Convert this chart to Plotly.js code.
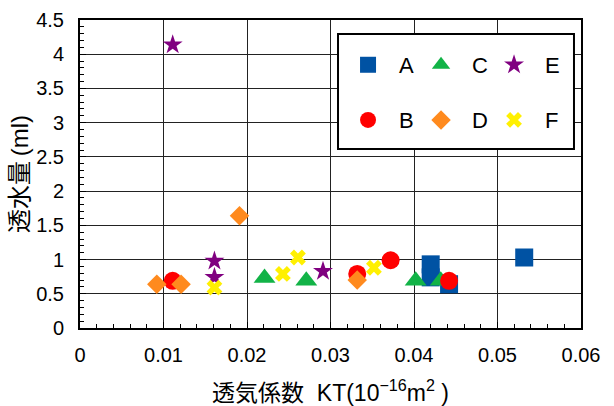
<!DOCTYPE html>
<html>
<head>
<meta charset="utf-8">
<script src="https://cdn.plot.ly/plotly-3.0.1.min.js"></script>
<style>html,body{margin:0;padding:0;background:#fff;}</style>
</head>
<body>
<div id="chart" style="width:614px;height:406px;"></div>
<script>
// Data
const seriesNames = ["A", "B", "C", "D", "E", "F"];
const A_x = [0.042, 0.042, 0.0442, 0.0532];
const A_y = [0.93, 0.74, 0.64, 1.03];
const B_x = [0.0111, 0.0332, 0.0372, 0.0442];
const B_y = [0.69, 0.79, 0.99, 0.69];
const C_x = [0.0221, 0.0271, 0.0402, 0.0432];
const C_y = [0.73, 0.69, 0.69, 0.69];
const D_x = [0.0092, 0.0121, 0.0191, 0.0332];
const D_y = [0.64, 0.64, 1.64, 0.70];
const E_x = [0.0111, 0.0161, 0.0161, 0.0291];
const E_y = [4.14, 0.98, 0.74, 0.83];
const F_x = [0.0161, 0.0243, 0.0261, 0.0352];
const F_y = [0.59, 0.79, 1.03, 0.88];
const xTickVals = [0, 0.01, 0.02, 0.03, 0.04, 0.05, 0.06];
const xTickText = ["0", "0.01", "0.02", "0.03", "0.04", "0.05", "0.06"];
const yTickVals = [0, 0.5, 1, 1.5, 2, 2.5, 3, 3.5, 4, 4.5];
const yTickText = ["0", "0.5", "1", "1.5", "2", "2.5", "3", "3.5", "4", "4.5"];

const FONT = "Liberation Sans, Arial, Noto Sans CJK JP, sans-serif";
const sp = "\u2002";

function tr(name, x, y, symbol, color, size, legend) {
  return {
    type: "scatter", mode: "markers", name: sp + name, x: x, y: y,
    marker: {symbol: symbol, color: color, size: size, line: {width: 0}},
    legend: legend
  };
}

const data = [
  tr(seriesNames[0], A_x, A_y, "square", "#0052a3", 18, "legend"),
  tr(seriesNames[2], C_x, C_y, "triangle-up", "#12b347", 19, "legend"),
  tr(seriesNames[4], E_x, E_y, "star", "#800080", 15, "legend"),
  tr(seriesNames[1], B_x, B_y, "circle", "#ff0000", 18, "legend2"),
  tr(seriesNames[3], D_x, D_y, "diamond", "#ff8a1e", 15, "legend2"),
  tr(seriesNames[5], F_x, F_y, "x", "#fff000", 14, "legend2")
];

const legendCommon = {
  orientation: "h", xanchor: "left", yanchor: "middle",
  bgcolor: "rgba(0,0,0,0)", borderwidth: 0,
  font: {family: FONT, size: 22, color: "#000"},
  entrywidth: 28, entrywidthmode: "pixels", itemclick: false
};

const layout = {
  width: 614, height: 406,
  margin: {l: 80, r: 33, t: 20, b: 78},
  paper_bgcolor: "#fff", plot_bgcolor: "#fff",
  font: {family: FONT, size: 20, color: "#000"},
  showlegend: true,
  legend: Object.assign({}, legendCommon, {x: 0.535, y: 0.854}),
  legend2: Object.assign({}, legendCommon, {x: 0.535, y: 0.675}),
  xaxis: {
    range: [0, 0.06], tickvals: xTickVals, ticktext: xTickText,
    ticks: "inside", ticklen: 6, tickcolor: "#000", tickwidth: 1,
    showline: true, linecolor: "#000", linewidth: 2, mirror: true,
    showgrid: true, gridcolor: "#222", gridwidth: 1, zeroline: false,
    ticklabelstandoff: 8,
    minor: {dtick: 0.002, ticks: "inside", ticklen: 4, tickcolor: "#000", showgrid: false},
    tickfont: {family: FONT, size: 20, color: "#000"},
    title: {text: "透気係数  KT(10<sup>−16</sup>m<sup>2</sup> )", font: {family: FONT, size: 23, color: "#000"}, standoff: 20}
  },
  yaxis: {
    range: [0, 4.5], tickvals: yTickVals, ticktext: yTickText,
    ticks: "inside", ticklen: 6, tickcolor: "#000", tickwidth: 1,
    showline: true, linecolor: "#000", linewidth: 2, mirror: true,
    showgrid: true, gridcolor: "#222", gridwidth: 1, zeroline: false,
    ticklabelstandoff: 10,
    minor: {dtick: 0.1, ticks: "inside", ticklen: 4, tickcolor: "#000", showgrid: false},
    tickfont: {family: FONT, size: 20, color: "#000"},
    title: {text: "透水量\u2009(ml)", font: {family: FONT, size: 24, color: "#000"}, standoff: 1}
  },
  shapes: [{
    type: "rect", xref: "paper", yref: "paper",
    x0: 0.515, x1: 0.986, y0: 0.581, y1: 0.9545,
    line: {color: "#000", width: 2}, fillcolor: "#fff", layer: "above"
  }]
};

Plotly.newPlot("chart", data, layout, {displayModeBar: false, staticPlot: true});
</script>
</body>
</html>
